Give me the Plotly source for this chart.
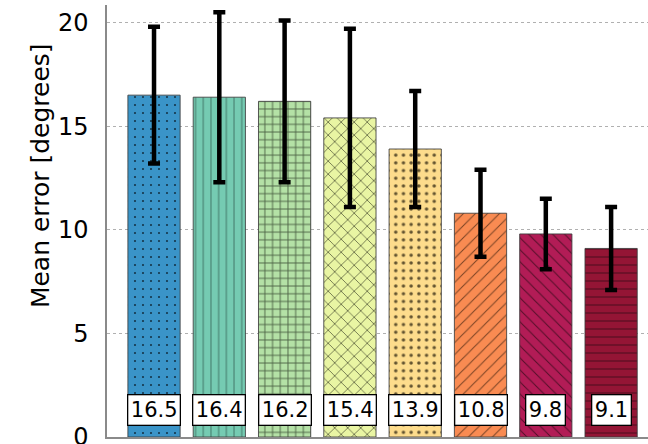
import plotly.graph_objects as go

categories = ["A", "B", "C", "D", "E", "F", "G", "H"]
mean_error = [16.5, 16.4, 16.2, 15.4, 13.9, 10.8, 9.8, 9.1]
std_error = [3.3, 4.1, 3.9, 4.3, 2.8, 2.1, 1.7, 2.0]
labels = ["16.5", "16.4", "16.2", "15.4", "13.9", "10.8", "9.8", "9.1"]
colors = ["#3a94c8", "#75cbb2", "#b4e1a6", "#e9f5a3", "#fddc8c", "#f98b52", "#b21c56", "#941535"]
hatch_colors = ["#0b1e2a", "#2f5a4d", "#2f3f2a", "#4a4f30", "#3a2f18", "#5a3018", "#3a0a1c", "#330812"]
shapes = [".", "|", "+", "x", ".", "/", "\\", "-"]
psizes = [8, 7.7, 7.7, 9.2, 7.7, 8.5, 8.5, 8]
psolid = [0.06, 0.12, 0.22, 0.18, 0.16, 0.12, 0.12, 0.12]

FONT = "DejaVu Sans"

fig = go.Figure()
for i in range(len(categories)):
    fig.add_trace(go.Bar(
        x=[i],
        y=[mean_error[i]],
        width=0.8,
        marker=dict(
            color=colors[i],
            line=dict(color="rgba(60,60,60,0.85)", width=1),
            pattern=dict(shape=shapes[i], size=psizes[i], solidity=psolid[i],
                         fgcolor=hatch_colors[i], fgopacity=0.8, fillmode="overlay"),
        ),
        error_y=dict(type="data", array=[std_error[i]], visible=True, color="black",
                     thickness=4.5, width=6),
        hoverinfo="skip",
    ))

for i, t in enumerate(labels):
    fig.add_annotation(
        x=i, y=1.3, xref="x", yref="y", text=t, showarrow=False,
        font=dict(family=FONT, size=21, color="black"),
        bgcolor="white", bordercolor="black", borderwidth=1.3, borderpad=2.5, height=24,
        xanchor="center", yanchor="middle",
    )

fig.add_annotation(
    x=-0.124, y=0.606, xref="paper", yref="paper", text="Mean error [degrees]",
    textangle=-90, showarrow=False, font=dict(family=FONT, size=25, color="black"),
    xanchor="center", yanchor="middle",
)

fig.update_layout(
    width=648, height=444,
    barmode="overlay",
    margin=dict(l=107, r=0, t=5, b=7, autoexpand=False),
    plot_bgcolor="white", paper_bgcolor="white",
    showlegend=False,
    font=dict(family=FONT, size=24, color="black"),
    xaxis=dict(range=[-0.72, 7.565], showticklabels=False, ticks="", showgrid=False,
               zeroline=False, showline=True, linecolor="#8a8a8a", linewidth=1.5,
               automargin=False),
    yaxis=dict(range=[0, 20.85], tickvals=[0, 5, 10, 15, 20], ticks="", ticklabelstandoff=12,
               ticklabeloverflow="allow", automargin=False,
               showgrid=True, gridcolor="#b0b0b0", griddash="dot", gridwidth=1,
               zeroline=False, showline=True, linecolor="#8a8a8a", linewidth=1.5,
               tickfont=dict(family=FONT, size=24, color="black")),
)

fig.write_html("out.html")
